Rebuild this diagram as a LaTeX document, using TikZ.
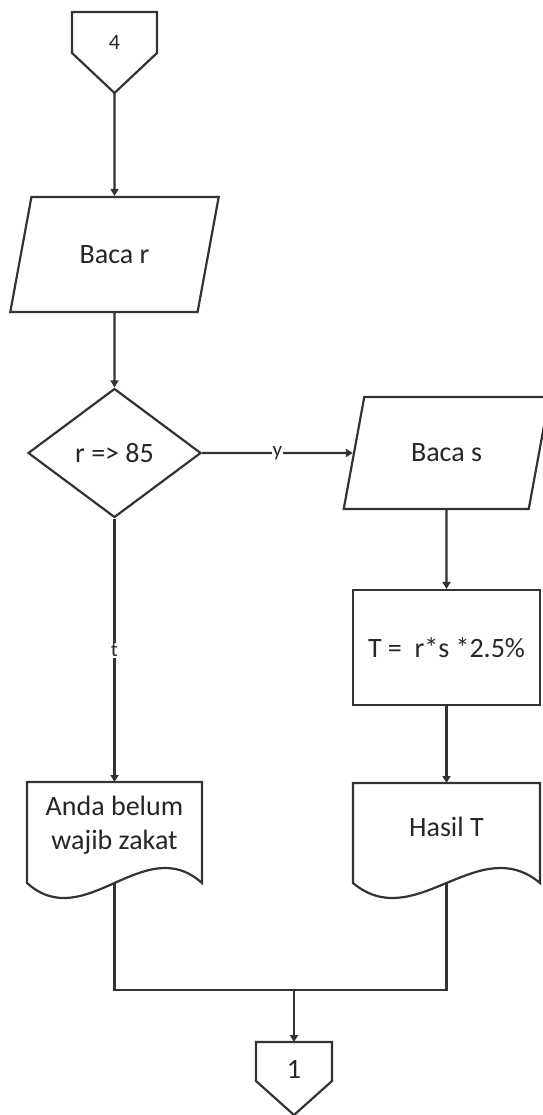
\documentclass[tikz,border=0pt]{standalone}
\usepackage{fontspec}
\setmainfont{Carlito}
\usetikzlibrary{arrows.meta,positioning,shapes.geometric}
\tikzset{
  % flowchart shapes
  io/.style={draw, trapezium, trapezium left angle=64, trapezium right angle=116,
  trapezium stretches=true, minimum width=209pt, minimum height=115pt, inner sep=0pt},
  test/.style={draw, diamond, aspect=1.34, minimum width=173pt, minimum height=129pt, inner sep=0pt},
  block/.style={draw, rectangle,
  minimum height=115pt,
  minimum width=187pt},
  doc/.style={rectangle, align=center, outer sep=0pt, inner sep=0pt},
  conn/.style={rectangle, outer sep=0pt, inner sep=0pt},
  lbl/.style={fill=white, inner sep=0.8pt, font=\fontsize{21}{21}\selectfont}}

\begin{document}
\begin{tikzpicture}[x=1pt, y=-1pt, line width=2.2pt, draw=black!80, text=black!85,
  >={Triangle[length=7pt,width=8pt]}, font=\fontsize{28}{34}\selectfont]
\useasboundingbox (0,0) rectangle (542,1115);

\draw (114.5,42.5) node (c4) [conn, minimum width=85pt, minimum height=61pt] {\fontsize{22}{22}\selectfont 4};
\draw (c4.north west) -- (c4.north east) -- ++(0,41) -- ++(-42.5,40) coordinate(c4t) -- ++(-42.5,-40) -- cycle;

\draw (114.5,254.5) node (br) [io] {Baca r};
\draw [->] (c4t) -- (br);

\draw (114.5,453) node (dec) [test] {r => 85};
\draw [->] (br) -- (dec);

\draw (446.5,453) node (bs) [io, minimum width=207pt, minimum height=112pt] {Baca s};
\draw [->] (dec) -- node [lbl] {y} (bs);

\draw (446.5,647.5) node (tb) [block] {T =\ \ r*s *2.5\%};
\draw [->] (bs) -- (tb);

% documents
\draw (114.5,825) node (ad) [doc, minimum width=175pt, minimum height=86pt] {Anda belum\\wajib zakat};
\draw (ad.north west) -- (ad.north east) -- ++(0,101) .. controls +(-58,-52) and +(58,52) .. ++(-175,0) -- cycle;
\draw [->] (dec) -- node [lbl] {t} (ad);

\draw (446.5,827) node (ht) [doc, minimum width=187pt, minimum height=88pt] {Hasil T};
\draw (ht.north west) -- (ht.north east) -- ++(0,100) .. controls +(-62,-52) and +(62,52) .. ++(-187,0) -- cycle;
\draw [->] (tb) -- (ht);

\draw (294,1069) node (c1) [conn, minimum width=76pt, minimum height=54pt] {1};
\draw (c1.north west) -- (c1.north east) -- ++(0,39) -- ++(-38,34) -- ++(-38,-34) -- cycle;

\path(ad.north) -- +(0,101) coordinate(adb);
\path(ht.north) -- +(0,100) coordinate(htb);
\path(c1.north) -- +(0,-52) coordinate(hline);

\draw (adb) -- (adb |- hline) -- (htb |- hline) -- (htb);
\draw [->] (c1.north |- hline) -- (c1.north);

\end{tikzpicture}
\end{document}
